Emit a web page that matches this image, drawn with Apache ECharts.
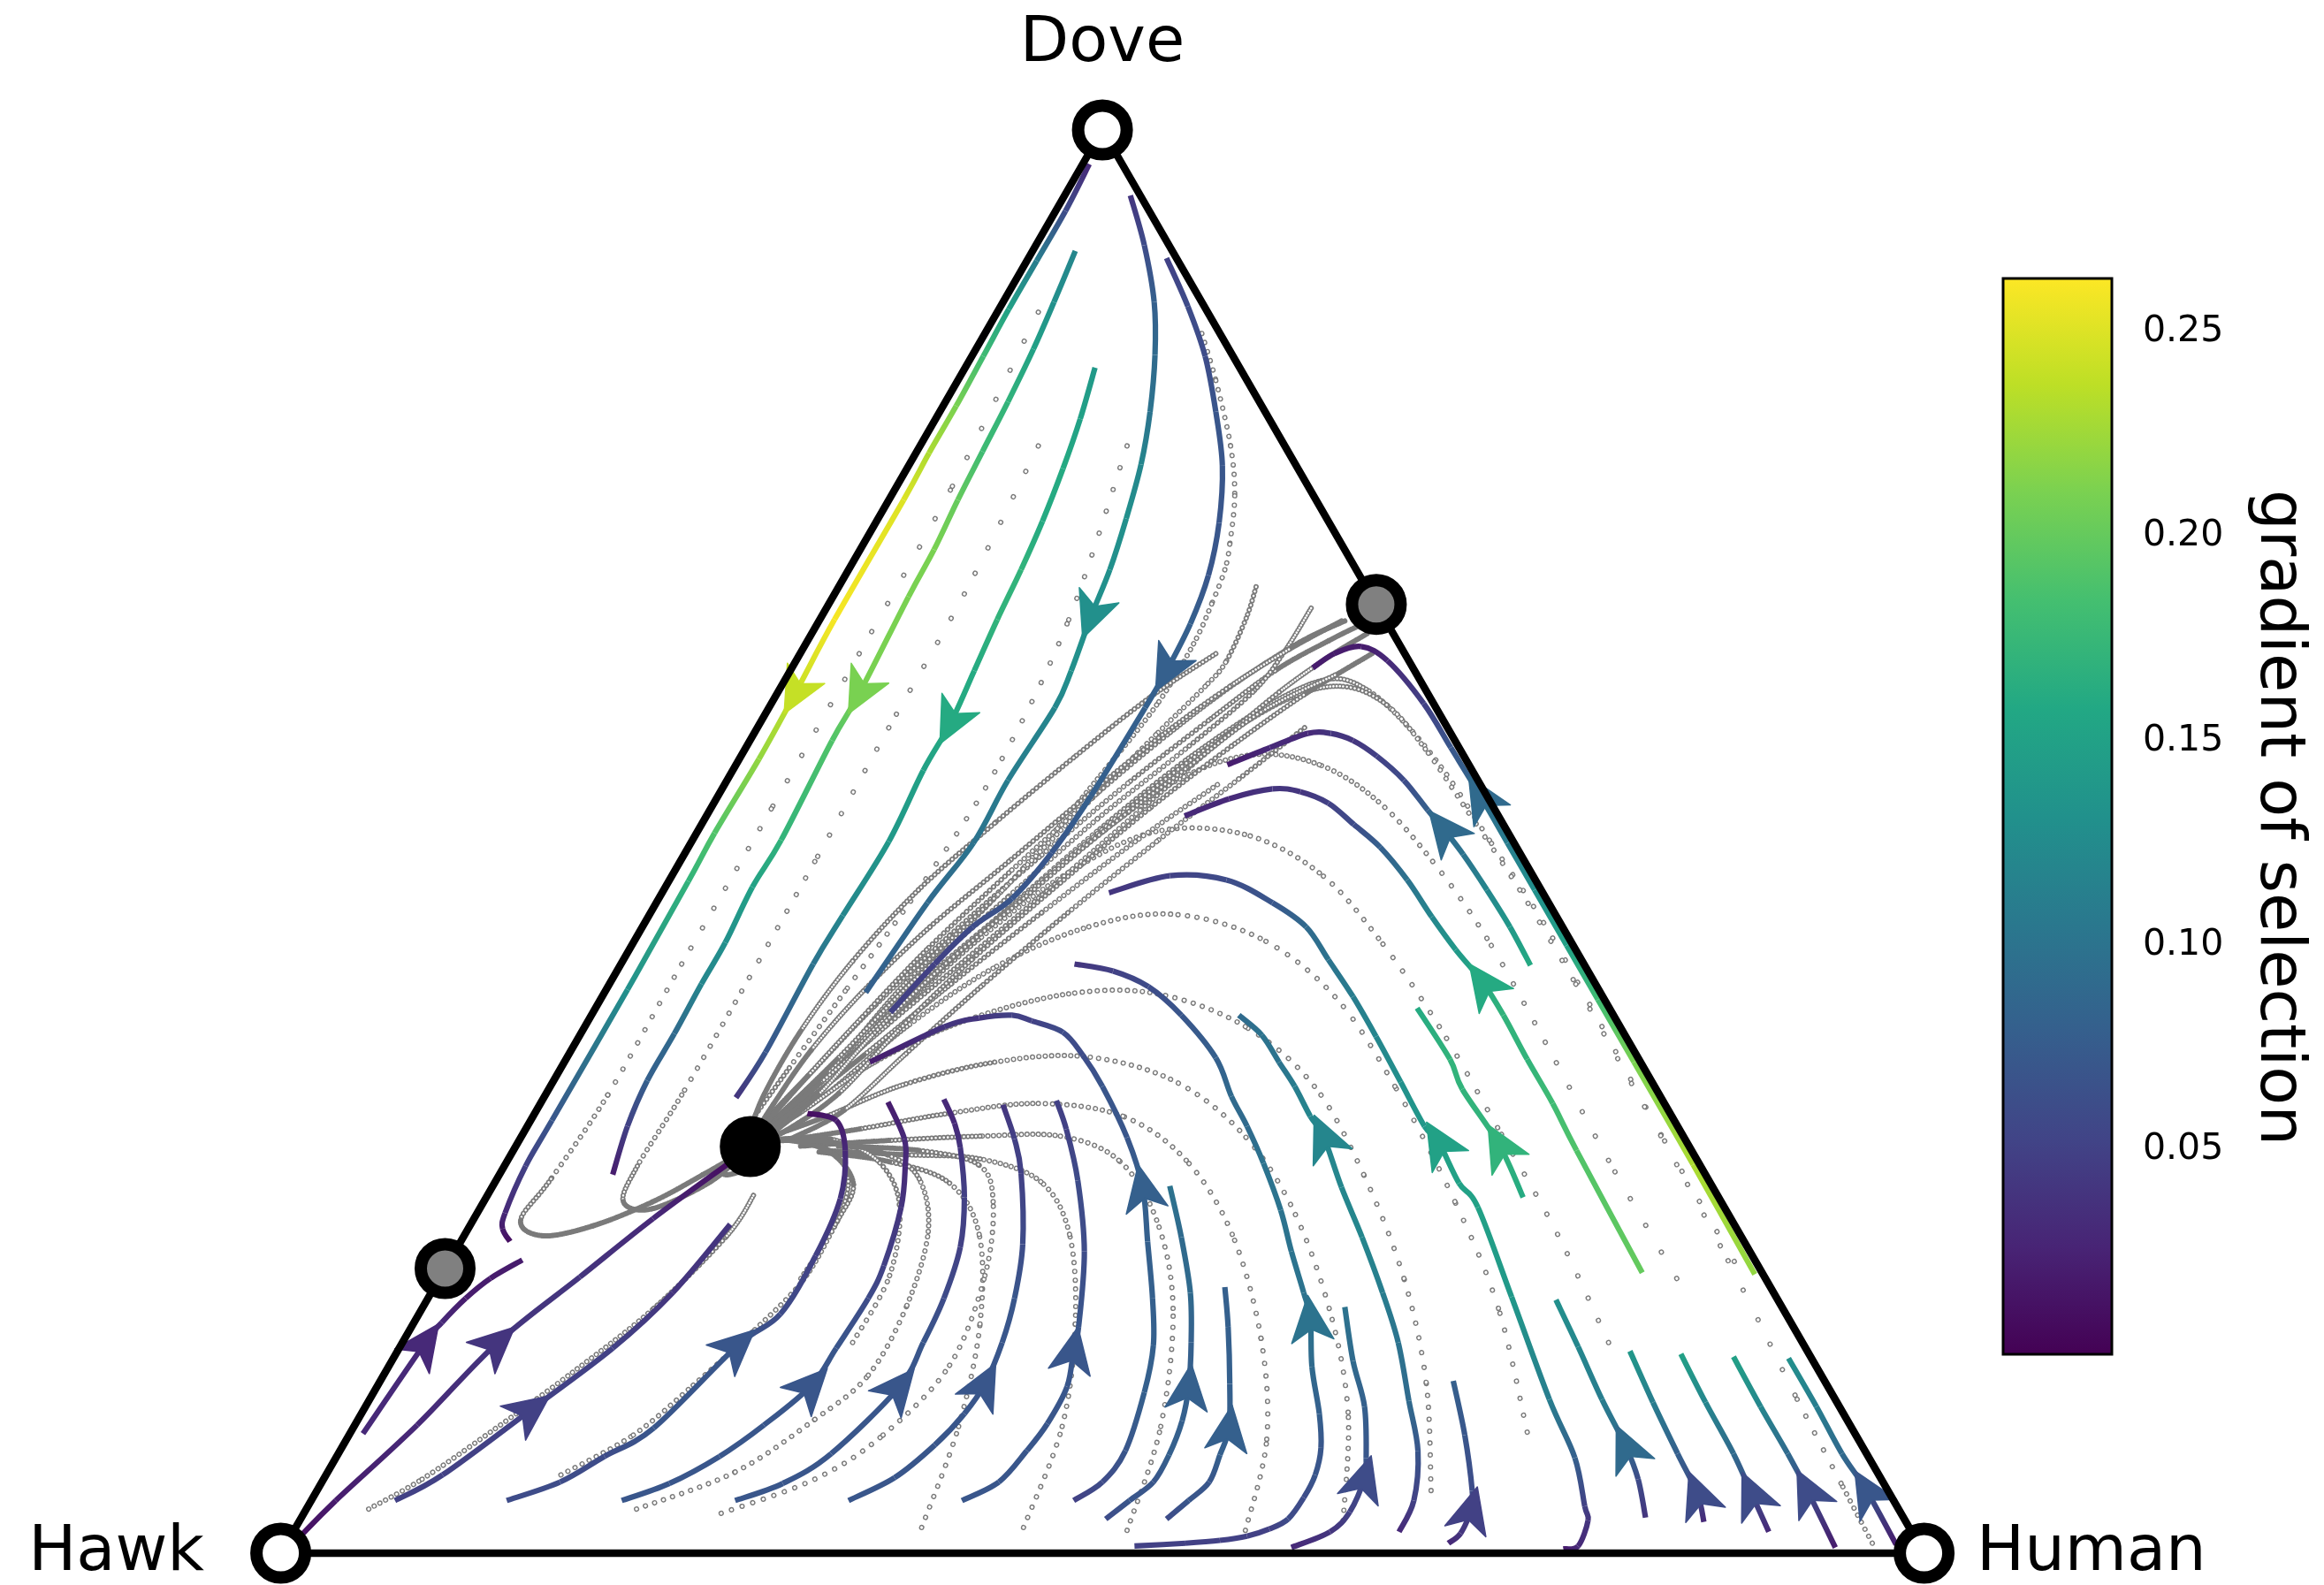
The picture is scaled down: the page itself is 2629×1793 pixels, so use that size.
<!DOCTYPE html>
<html>
<head>
<meta charset="utf-8">
<script src="https://cdn.jsdelivr.net/npm/echarts@6/dist/echarts.min.js"></script>
<style>
  html, body { margin: 0; padding: 0; background: #ffffff; }
  #chart { width: 2629px; height: 1793px; }
</style>
</head>
<body>
<div id="chart"></div>
<script>
// Replicator dynamics of the Hawk / Dove / Human game on the simplex.
// Every point is [human share, dove share, gradient of selection]; hawk = 1 - human - dove.

// ---- streamlines ----
const sA1 = [[.004,.976,.03],[.006,.943,.06],[.006,.908,.11],[.006,.874,.15],[.007,.841,.18],[.008,.806,.21],[.008,.773,.23],[.009,.740,.25],[.009,.656,.26],[.011,.604,.24],[.012,.558,.22],[.011,.506,.19],[.012,.472,.17],[.013,.396,.13],[.013,.304,.07],[.013,.272,.05],[.017,.239,.03],[.021,.228,.02],[.030,.219,.01]];
const sA2 = [[.026,.915,.12],[.031,.879,.13],[.035,.846,.15],[.038,.809,.17],[.040,.774,.18],[.042,.740,.20],[.045,.705,.21],[.046,.672,.21],[.050,.604,.21],[.050,.571,.19],[.054,.501,.17],[.053,.468,.15],[.056,.429,.13],[.056,.400,.12],[.057,.365,.09],[.057,.332,.08],[.061,.300,.05],[.069,.266,.02]];
const sA3 = [[.079,.833,.14],[.088,.797,.15],[.095,.762,.16],[.101,.725,.16],[.105,.691,.17],[.108,.656,.17],[.112,.620,.16],[.116,.583,.16],[.116,.550,.15],[.120,.500,.14],[.118,.448,.12],[.117,.414,.10],[.119,.352,.07],[.117,.320,.04]];
const sA4 = [[.040,.954,.04],[.066,.919,.06],[.092,.879,.08],[.111,.842,.09],[.128,.802,.10],[.141,.765,.12],[.151,.727,.13],[.159,.691,.13],[.164,.658,.13],[.171,.620,.13],[.174,.594,.12],[.171,.543,.11],[.172,.499,.10],[.165,.457,.09],[.159,.394,.08]];
const sA5 = [[.084,.910,.05],[.114,.876,.06],[.142,.841,.06],[.168,.802,.07],[.191,.764,.07],[.209,.724,.07],[.221,.687,.07],[.227,.653,.08],[.229,.620,.08],[.229,.594,.08],[.227,.532,.08],[.223,.492,.07],[.215,.460,.07],[.201,.440,.06],[.191,.414,.05],[.181,.380,.05]];
const sB1 = [[.008,.084,.03],[.014,.148,.03],[.017,.162,.03],[.023,.179,.02],[.031,.193,.02],[.044,.206,.02]];
const sB2 = [[.006,.012,.01],[.015,.037,.02],[.038,.090,.03],[.058,.148,.04],[.085,.194,.04],[.109,.235,.03],[.135,.273,.01]];
const sB3 = [[.051,.037,.05],[.071,.055,.05],[.102,.101,.05],[.130,.144,.05],[.147,.183,.04],[.158,.231,.04]];
const sB4 = [[.119,.037,.06],[.145,.050,.06],[.163,.068,.06],[.183,.088,.07],[.205,.146,.07],[.220,.168,.06],[.221,.209,.05],[.216,.249,.04],[.202,.283,.03],[.186,.304,.02],[.166,.309,.01]];
const sB5 = [[.189,.037,.07],[.212,.049,.07],[.233,.068,.07],[.249,.090,.07],[.264,.118,.07],[.266,.144,.07],[.268,.179,.06],[.266,.202,.05],[.256,.243,.04],[.244,.272,.03],[.234,.291,.03],[.211,.317,.02]];
const sB6 = [[.258,.037,.07],[.281,.049,.07],[.300,.070,.07],[.318,.117,.07],[.317,.148,.07],[.314,.179,.06],[.306,.215,.05],[.291,.250,.05],[.271,.285,.04],[.259,.302,.03],[.244,.319,.03]];
const sB7 = [[.327,.037,.07],[.347,.053,.07],[.360,.076,.07],[.367,.098,.07],[.369,.119,.07],[.365,.148,.07],[.357,.179,.07],[.343,.217,.06],[.317,.267,.05],[.301,.291,.05],[.282,.315,.04]];
const sB8 = [[.396,.037,.07],[.412,.050,.07],[.418,.072,.07],[.421,.091,.07],[.420,.117,.07],[.411,.143,.07],[.406,.159,.07],[.383,.212,.06],[.354,.262,.06],[.329,.298,.05],[.313,.318,.05]];
const sB9 = [[.464,.037,.05],[.475,.050,.06],[.478,.072,.07],[.469,.113,.08],[.458,.146,.08],[.441,.179,.08],[.418,.219,.08],[.396,.257,.08],[.369,.292,.07],[.336,.328,.07],[.313,.350,.06],[.293,.366,.06],[.270,.374,.05],[.256,.378,.05],[.237,.376,.04],[.219,.370,.04],[.186,.345,.02]];
const sB10 = [[.490,.024,.06],[.498,.037,.07],[.506,.050,.07],[.506,.069,.08],[.502,.093,.08],[.494,.117,.08],[.480,.148,.08],[.462,.183,.09],[.437,.222,.09],[.412,.258,.10]];
const sB11 = [[.527,.024,.06],[.534,.037,.07],[.540,.050,.07],[.537,.069,.08],[.533,.088,.08],[.518,.119,.08],[.497,.159,.08],[.481,.187,.08]];
const sB12 = [[.517,.005,.05],[.547,.007,.05],[.567,.009,.05],[.582,.012,.05],[.593,.017,.05],[.601,.024,.06],[.603,.039,.06],[.602,.055,.07],[.596,.074,.07],[.583,.098,.08],[.562,.131,.09],[.544,.165,.10],[.531,.183,.10],[.509,.212,.10],[.488,.241,.10],[.461,.274,.10],[.438,.300,.09],[.418,.321,.09],[.395,.348,.08],[.359,.378,.07],[.329,.398,.06],[.302,.409,.05],[.276,.414,.04]];
const sB13 = [[.554,.413,.16],[.528,.440,.14],[.501,.466,.12],[.474,.491,.10],[.453,.509,.09],[.437,.522,.08],[.412,.543,.06],[.387,.560,.05],[.367,.571,.04],[.351,.576,.04],[.337,.576,.03],[.319,.566,.03],[.299,.554,.02]];
const sE1 = [[.799,.196,.22],[.723,.273,.23],[.651,.345,.21],[.607,.389,.18],[.569,.427,.15],[.530,.466,.13],[.497,.499,.11],[.464,.532,.09],[.429,.566,.07],[.397,.597,.05],[.360,.627,.03],[.339,.637,.02],[.325,.632,.02],[.317,.622,.02]];
const sB14 = [[.779,.003,.02],[.787,.005,.03],[.784,.023,.04],[.777,.033,.05],[.754,.067,.08],[.718,.108,.11],[.659,.180,.14],[.607,.243,.15],[.587,.260,.15],[.560,.289,.15],[.546,.300,.14],[.516,.331,.13],[.485,.363,.12],[.457,.391,.11],[.429,.417,.10],[.404,.440,.09],[.375,.457,.07],[.339,.473,.06],[.303,.476,.05],[.272,.464,.04]];
const sB15 = [[.730,.197,.20],[.647,.283,.19],[.616,.316,.18],[.585,.347,.17],[.555,.378,.17],[.531,.401,.16],[.503,.424,.14],[.477,.447,.12],[.449,.473,.10],[.421,.496,.08],[.397,.512,.06],[.374,.527,.05],[.353,.535,.04],[.335,.537,.04],[.312,.530,.03],[.291,.518,.03]];
const sB16 = [[.673,.015,.03],[.671,.037,.05],[.656,.072,.07],[.633,.107,.09],[.606,.148,.10],[.579,.183,.11],[.547,.222,.12],[.517,.257,.12],[.488,.293,.12],[.473,.307,.12],[.453,.328,.11],[.435,.345,.10],[.415,.364,.10],[.394,.378,.09]];
const sB17 = [[.613,.004,.03],[.631,.015,.04],[.636,.029,.05],[.633,.053,.06],[.627,.067,.07],[.608,.103,.08],[.585,.135,.09],[.561,.173,.10]];
const sB18 = [[.631,.250,.16],[.598,.287,.17],[.556,.326,.17],[.538,.347,.17],[.500,.383,.16]];
const sB19 = [[.707,.007,.03],[.711,.014,.04],[.709,.031,.05],[.703,.044,.06],[.679,.083,.07],[.653,.121,.08]];
const sR1 = [[.818,.025,.04],[.800,.052,.06],[.781,.075,.09],[.750,.108,.11],[.717,.145,.12],[.687,.178,.13]];
const sR2 = [[.855,.022,.03],[.841,.042,.06],[.815,.070,.08],[.782,.106,.11],[.750,.142,.14]];
const sR3 = [[.898,.015,.03],[.874,.042,.06],[.849,.070,.09],[.814,.106,.12],[.782,.140,.15]];
const sR4 = [[.944,.004,.02],[.907,.044,.06],[.882,.070,.09],[.849,.103,.12],[.815,.138,.15]];
const sR5 = [[.980,.006,.02],[.943,.044,.07],[.915,.070,.09],[.883,.103,.11],[.849,.137,.13]];

const streams = [sA1, sA2, sA3, sA4, sA5, sB1, sB2, sB3, sB4, sB5, sB6, sB7, sB8, sB9, sB10, sB11,
                 sB12, sB13, sE1, sB14, sB15, sB16, sB17, sB18, sB19, sR1, sR2, sR3, sR4, sR5];
// index of the point carrying the direction arrow on each streamline
const arrowAt = [9, 8, 7, 8, 8, 1, 3, 2, 4, 4, 3, 4, 5, 7, 5, 4,
                 11, 4, 7, 9, 5, 8, 3, 1, 2, 2, 1, 1, 1, 1];

// ---- sampled trajectories (time-stepped orbits) ----
const gp1 = [[.332,.653,.004],[.317,.641,.01],[.295,.620,.02],[.272,.585,.03],[.245,.541,.035],[.217,.489,.035],[.190,.434,.032],[.169,.384,.028],[.155,.341,.02],[.144,.307,.01],[.142,.289,.003]];
const gp2 = [[.782,.205,.22],[.693,.294,.22],[.619,.370,.18],[.547,.443,.14],[.485,.501,.10],[.436,.547,.07],[.394,.582,.045],[.357,.607,.025],[.330,.614,.018],[.303,.596,.022],[.272,.557,.03],[.243,.507,.035],[.216,.453,.035],[.188,.399,.03],[.166,.346,.02],[.149,.307,.01],[.142,.289,.003]];
const gp3 = [[.753,.193,.20],[.670,.276,.19],[.590,.359,.16],[.518,.432,.12],[.458,.486,.08],[.404,.528,.05],[.355,.554,.035],[.311,.561,.035],[.275,.544,.035],[.245,.504,.035],[.217,.451,.035],[.189,.397,.03],[.167,.344,.02],[.150,.306,.01],[.142,.289,.003]];
const gp4 = [[.734,.148,.16],[.665,.224,.15],[.591,.299,.14],[.520,.370,.12],[.452,.432,.09],[.393,.478,.06],[.334,.505,.05],[.279,.507,.045],[.240,.478,.04],[.209,.431,.035],[.183,.374,.03],[.162,.325,.02],[.147,.295,.008]];
const gp5 = [[.716,.085,.10],[.655,.172,.12],[.591,.247,.12],[.514,.328,.11],[.446,.391,.09],[.380,.432,.07],[.317,.449,.05],[.269,.439,.045],[.228,.411,.04],[.196,.370,.03],[.171,.323,.02],[.147,.294,.008]];
const gp6 = [[.678,.044,.06],[.637,.120,.09],[.587,.193,.10],[.526,.266,.10],[.465,.328,.09],[.402,.370,.07],[.337,.393,.05],[.283,.393,.045],[.229,.374,.035],[.189,.345,.025],[.161,.309,.015],[.144,.291,.005]];
const gp7 = [[.635,.023,.05],[.600,.099,.08],[.552,.172,.09],[.492,.245,.09],[.435,.297,.08],[.375,.333,.06],[.314,.349,.045],[.262,.345,.035],[.214,.329,.025],[.177,.306,.015],[.146,.290,.005]];
const gp8 = [[.579,.016,.06],[.560,.080,.08],[.521,.151,.08],[.467,.224,.08],[.413,.276,.07],[.359,.307,.05],[.303,.316,.04],[.252,.309,.03],[.203,.298,.02],[.162,.290,.01]];
const gp9 = [[.507,.016,.06],[.491,.089,.07],[.457,.172,.07],[.416,.234,.06],[.372,.276,.05],[.328,.293,.04],[.279,.293,.03],[.225,.290,.02],[.173,.286,.01]];
const gp10 = [[.443,.018,.07],[.431,.089,.07],[.403,.161,.06],[.368,.224,.05],[.332,.261,.04],[.287,.277,.03],[.239,.280,.02],[.188,.283,.01]];
const gp11 = [[.381,.018,.07],[.368,.089,.07],[.345,.161,.06],[.313,.224,.05],[.277,.260,.035],[.233,.275,.02],[.186,.282,.01]];
const gp12 = [[.274,.148,.06],[.273,.195,.05],[.254,.245,.04],[.225,.276,.025],[.189,.291,.012],[.159,.291,.005]];
const gp13 = [[.220,.193,.04],[.222,.234,.03],[.212,.266,.02],[.188,.285,.01],[.157,.291,.004]];
const gp14 = [[.038,.031,.04],[.060,.052,.04],[.085,.085,.04],[.114,.127,.04],[.141,.172,.035],[.160,.223,.025],[.162,.253,.01]];
const gp15 = [[.143,.055,.05],[.173,.083,.05],[.192,.118,.05],[.210,.157,.05],[.222,.192,.04],[.222,.231,.03],[.219,.259,.02],[.193,.282,.01],[.162,.291,.004]];
const gp16 = [[.201,.031,.06],[.248,.057,.06],[.278,.094,.06],[.295,.125,.06],[.294,.174,.05],[.281,.226,.04],[.257,.263,.03],[.229,.280,.02],[.190,.289,.01],[.158,.290,.004]];
const gp17 = [[.254,.028,.07],[.299,.052,.07],[.325,.083,.07],[.341,.132,.07],[.331,.195,.06],[.310,.247,.05],[.288,.273,.035],[.247,.283,.02],[.196,.286,.01]];
const gp18 = [[.025,.872,.20],[.034,.747,.21],[.036,.632,.20],[.037,.523,.17],[.037,.414,.12],[.038,.322,.07],[.033,.263,.035],[.029,.234,.015],[.048,.223,.01],[.075,.230,.012],[.103,.247,.012],[.124,.266,.008],[.139,.281,.003]];
const gp19 = [[.072,.778,.18],[.079,.674,.18],[.080,.580,.17],[.082,.486,.14],[.083,.395,.10],[.083,.322,.06],[.081,.272,.03],[.085,.247,.015],[.105,.242,.01],[.131,.261,.008],[.141,.282,.003]];
const gp20 = [[.126,.778,.15],[.152,.653,.14],[.160,.549,.13],[.155,.466,.10],[.146,.395,.07],[.139,.341,.04],[.134,.297,.02],[.135,.268,.01],[.146,.268,.004]];
const gp21 = [[.132,.857,.06],[.157,.824,.06],[.189,.778,.06],[.209,.743,.06],[.223,.709,.06],[.229,.691,.06],[.233,.667,.05],[.236,.639,.045],[.235,.596,.04],[.225,.544,.04],[.211,.481,.035],[.193,.428,.032],[.175,.372,.028],[.160,.322,.018],[.145,.292,.005]];
const gp22 = [[.254,.679,.03],[.259,.657,.03],[.262,.626,.035],[.258,.609,.035],[.245,.575,.04],[.226,.523,.04],[.204,.460,.035],[.180,.401,.03],[.164,.336,.02],[.146,.296,.006]];
const gp23 = [[.295,.664,.015],[.294,.633,.02],[.289,.605,.03],[.268,.565,.035],[.239,.516,.035],[.212,.461,.035],[.185,.405,.03],[.165,.347,.02],[.147,.301,.008]];
const gp24 = [[.965,.007,.02],[.925,.049,.08],[.866,.111,.16],[.817,.164,.20],[.768,.216,.22],[.713,.273,.22],[.657,.330,.20],[.585,.403,.16],[.521,.466,.12],[.463,.520,.08],[.414,.565,.05],[.375,.596,.03],[.342,.609,.02],[.314,.601,.02],[.284,.570,.03],[.254,.523,.035],[.226,.471,.035],[.199,.416,.03],[.179,.364,.025],[.161,.320,.015],[.144,.291,.004]];
const gp25 = [[.320,.655,.006],[.300,.640,.012],[.276,.612,.022],[.252,.575,.03],[.228,.530,.035],[.204,.478,.035],[.181,.424,.03],[.165,.375,.025],[.153,.335,.018],[.145,.305,.008],[.142,.290,.003]];
const gp26 = [[.338,.646,.006],[.323,.630,.012],[.305,.605,.022],[.285,.568,.03],[.262,.522,.035],[.236,.470,.035],[.208,.417,.032],[.183,.370,.028],[.163,.330,.02],[.149,.302,.01],[.143,.289,.003]];
const gp27 = [[.300,.540,.035],[.270,.500,.035],[.238,.450,.035],[.208,.400,.03],[.180,.350,.02],[.158,.313,.01],[.144,.291,.003]];
const gp28 = [[.318,.655,.006],[.296,.635,.015],[.273,.609,.025],[.249,.575,.03],[.225,.533,.03],[.200,.486,.03],[.175,.440,.028],[.157,.395,.022],[.146,.353,.015],[.142,.315,.008],[.141,.291,.002]];
const gp29 = [[.348,.632,.01],[.321,.603,.02],[.295,.567,.03],[.267,.523,.033],[.239,.471,.033],[.212,.417,.03],[.192,.367,.024],[.178,.323,.015],[.159,.297,.006],[.144,.286,.002]];
const gp30 = [[.333,.580,.03],[.311,.544,.035],[.283,.500,.035],[.254,.450,.033],[.227,.398,.03],[.205,.351,.022],[.187,.311,.012],[.166,.292,.005]];
const gp31 = [[.253,.632,.02],[.228,.601,.028],[.203,.559,.03],[.178,.513,.03],[.155,.466,.028],[.140,.416,.022],[.133,.367,.015],[.133,.322,.008],[.138,.294,.002]];
const gp32 = [[.333,.617,.015],[.301,.591,.025],[.275,.551,.03],[.247,.507,.033],[.222,.460,.033],[.196,.411,.03],[.178,.364,.022],[.166,.322,.012],[.151,.294,.004]];

const orbits = [gp1, gp2, gp3, gp4, gp5, gp6, gp7, gp8, gp9, gp10, gp11, gp12, gp13, gp14, gp15, gp16,
                gp17, gp18, gp19, gp20, gp21, gp22, gp23, gp24, gp25, gp26, gp27, gp28, gp29, gp30, gp31, gp32];

// ---- rest points ----
const restHuman = [0, 1, 0, 1 / 3, 0, 1 / 7];
const restDove  = [0, 0, 1, 2 / 3, 0.2, 2 / 7];
const restKind  = ['source', 'source', 'source', 'saddle', 'saddle', 'sink'];

// ---- colour bar ----
const gradientMax = 0.263;
const colorbarTicks = [0.05, 0.10, 0.15, 0.20, 0.25];
const viridisStops = ['#440154', '#482475', '#414487', '#355f8d', '#2a788e', '#21918c',
                      '#22a884', '#44bf70', '#7ad151', '#bddf26', '#fde725'];

const H = Math.sqrt(3) / 2;
function toXY(human, dove) { return [human + dove / 2, dove * H]; }

function hexRgb(c) { return [parseInt(c.slice(1, 3), 16), parseInt(c.slice(3, 5), 16), parseInt(c.slice(5, 7), 16)]; }
const viridisRgb = viridisStops.map(hexRgb);
function viridis(g) {
  const t = Math.min(1, Math.max(0, g / gradientMax)) * (viridisRgb.length - 1);
  const i = Math.min(viridisRgb.length - 2, Math.floor(t));
  const f = t - i;
  const a = viridisRgb[i], b = viridisRgb[i + 1];
  return 'rgb(' + [0, 1, 2].map(k => Math.round(a[k] + (b[k] - a[k]) * f)).join(',') + ')';
}

// cubic Bezier pieces of a Catmull-Rom curve through pixel points
function pieces(pts) {
  const out = [];
  for (let i = 0; i < pts.length - 1; i++) {
    const p0 = pts[i - 1] || pts[i], p1 = pts[i], p2 = pts[i + 1], p3 = pts[i + 2] || pts[i + 1];
    out.push({
      x1: p1[0], y1: p1[1], x2: p2[0], y2: p2[1],
      cpx1: p1[0] + (p2[0] - p0[0]) / 6, cpy1: p1[1] + (p2[1] - p0[1]) / 6,
      cpx2: p2[0] - (p3[0] - p1[0]) / 6, cpy2: p2[1] - (p3[1] - p1[1]) / 6
    });
  }
  return out;
}

function renderStream(params, api) {
  const idx = api.value(2);
  const s = streams[idx];
  const pts = s.map(q => api.coord(toXY(q[0], q[1])));
  const children = [];
  pieces(pts).forEach((shape, i) => {
    const stroke = new echarts.graphic.LinearGradient(shape.x1, shape.y1, shape.x2, shape.y2,
      [{ offset: 0, color: viridis(s[i][2]) }, { offset: 1, color: viridis(s[i + 1][2]) }], true);
    children.push({ type: 'bezierCurve', shape, style: { stroke, fill: null, lineWidth: 6.2, lineCap: 'butt' } });
  });
  const k = arrowAt[idx];
  const a = pts[k], prev = pts[Math.max(k - 1, 0)], next = pts[Math.min(k + 1, pts.length - 1)];
  let tx = next[0] - prev[0], ty = next[1] - prev[1];
  const len = Math.hypot(tx, ty) || 1; tx /= len; ty /= len;
  const nx = -ty, ny = tx, L = 52, W = 48;
  const tip = [a[0] + tx * L * 0.5, a[1] + ty * L * 0.5];
  const back = [a[0] - tx * L * 0.5, a[1] - ty * L * 0.5];
  const notch = [back[0] + tx * L * 0.26, back[1] + ty * L * 0.26];
  children.push({
    type: 'polygon',
    shape: { points: [tip, [back[0] + nx * W / 2, back[1] + ny * W / 2], notch, [back[0] - nx * W / 2, back[1] - ny * W / 2]] },
    style: { fill: viridis(s[k][2]), stroke: viridis(s[k][2]), lineWidth: 1.5, lineJoin: 'round' }
  });
  return { type: 'group', children };
}

// hollow round markers at fixed time steps: spacing follows the local speed
function renderOrbit(params, api) {
  const s = orbits[api.value(2)];
  const pts = s.map(q => api.coord(toXY(q[0], q[1])));
  const children = [];
  pieces(pts).forEach((shape, i) => {
    const step = Math.max(1.5, 178 * (s[i][2] + s[i + 1][2]) / 2);
    children.push({ type: 'bezierCurve', shape, style: { stroke: '#7a7a7a', fill: null, lineWidth: 6, lineCap: 'round', lineDash: [0.1, step] } });
    if (step >= 3) {
      const inner = step < 6 ? 2.6 : 3.2;
      children.push({ type: 'bezierCurve', shape, style: { stroke: '#ffffff', fill: null, lineWidth: inner, lineCap: 'round', lineDash: [0.1, step] } });
    }
  });
  return { type: 'group', children };
}

function renderColorbar(params, api) {
  const p0 = api.coord([0, gradientMax]);
  const p1 = api.coord([1, 0]);
  const stops = viridisStops.map((c, i) => ({ offset: i / (viridisStops.length - 1), color: c }));
  return {
    type: 'rect',
    shape: { x: p0[0], y: p0[1], width: p1[0] - p0[0], height: p1[1] - p0[1] },
    style: { fill: new echarts.graphic.LinearGradient(0, 1, 0, 0, stops), stroke: '#000', lineWidth: 3 }
  };
}

const corners = [toXY(0, 0), toXY(1, 0), toXY(0, 1), toXY(0, 0)];
const restFill = { source: '#ffffff', saddle: '#808080', sink: '#000000' };
const font = '"DejaVu Sans", "Liberation Sans", sans-serif';

const chart = echarts.init(document.getElementById('chart'), null, { renderer: 'canvas' });
chart.setOption({
  animation: false,
  backgroundColor: '#ffffff',
  grid: [
    { left: 317.6, top: 147, width: 1859, height: 1610 },
    { left: 2266, top: 315, width: 123, height: 1217 }
  ],
  xAxis: [
    { type: 'value', gridIndex: 0, min: 0, max: 1, show: false },
    { type: 'value', gridIndex: 1, min: 0, max: 1, show: false }
  ],
  yAxis: [
    { type: 'value', gridIndex: 0, min: 0, max: H, show: false },
    {
      type: 'value', gridIndex: 1, min: 0, max: gradientMax, interval: 0.05, position: 'right',
      axisLine: { show: false },
      splitLine: { show: false },
      axisTick: { show: true, length: 15, customValues: colorbarTicks, lineStyle: { color: '#000', width: 2.5 } },
      axisLabel: {
        show: true, customValues: colorbarTicks, margin: 35, color: '#000', fontSize: 41, fontFamily: font,
        formatter: v => (v === 0 ? '' : v.toFixed(2))
      }
    }
  ],
  graphic: [
    { type: 'text', x: 1247, y: 50, style: { text: 'Dove', font: '72px ' + font, fill: '#000', textAlign: 'center', align: 'center', textVerticalAlign: 'middle', verticalAlign: 'middle' } },
    { type: 'text', x: 231, y: 1757, style: { text: 'Hawk', font: '72px ' + font, fill: '#000', textAlign: 'right', align: 'right', textVerticalAlign: 'middle', verticalAlign: 'middle' } },
    { type: 'text', x: 2236, y: 1757, style: { text: 'Human', font: '72px ' + font, fill: '#000', textAlign: 'left', align: 'left', textVerticalAlign: 'middle', verticalAlign: 'middle' } },
    { type: 'text', x: 2577, y: 925, rotation: -Math.PI / 2, style: { text: 'gradient of selection', font: '72px ' + font, fill: '#000', textAlign: 'center', align: 'center', textVerticalAlign: 'middle', verticalAlign: 'middle' } }
  ],
  series: [
    {
      type: 'custom', name: 'orbits', xAxisIndex: 0, yAxisIndex: 0, clip: false, silent: true, z: 2,
      data: orbits.map((s, i) => toXY(s[0][0], s[0][1]).concat([i])),
      encode: { x: 0, y: 1 },
      renderItem: renderOrbit
    },
    {
      type: 'custom', name: 'streamlines', xAxisIndex: 0, yAxisIndex: 0, clip: false, silent: true, z: 3,
      data: streams.map((s, i) => toXY(s[0][0], s[0][1]).concat([i])),
      encode: { x: 0, y: 1 },
      renderItem: renderStream
    },
    {
      type: 'line', name: 'simplex', xAxisIndex: 0, yAxisIndex: 0, clip: false, silent: true, z: 4,
      data: corners, symbol: 'none', lineStyle: { color: '#000', width: 8.5, opacity: 1 }
    },
    {
      type: 'scatter', name: 'rest points', xAxisIndex: 0, yAxisIndex: 0, silent: true, z: 5,
      symbol: 'circle', symbolSize: 55,
      data: restHuman.map((h, i) => ({
        value: toXY(h, restDove[i]),
        itemStyle: { color: restFill[restKind[i]], borderColor: '#000', borderWidth: 14, opacity: 1 }
      }))
    },
    {
      type: 'custom', name: 'colorbar', xAxisIndex: 1, yAxisIndex: 1, silent: true, z: 3,
      data: [[0, 0]], encode: { x: 0, y: 1 },
      renderItem: renderColorbar
    }
  ]
});
</script>
</body>
</html>
